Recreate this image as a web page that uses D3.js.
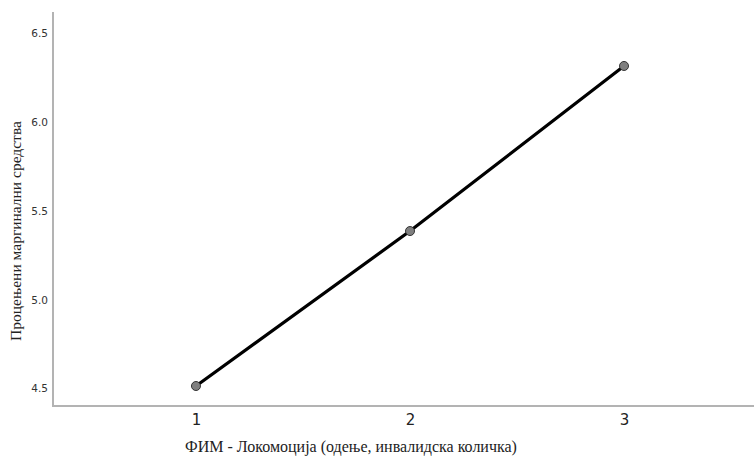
<!DOCTYPE html>
<html>
<head>
<meta charset="utf-8">
<script src="https://cdn.jsdelivr.net/npm/d3@7"></script>
<style>
  html, body { margin: 0; padding: 0; background: #fff; }
  svg { display: block; }
</style>
</head>
<body>
<svg id="chart" width="754" height="457"></svg>
<script>
// Estimated marginal means by FIM locomotion level
const levels = [1, 2, 3];
const means = [4.514, 5.387, 6.317];
const yTicks = [4.5, 5.0, 5.5, 6.0, 6.5];
const xTitle = "ФИМ - Локомоција (одење, инвалидска количка)";
const yTitle = "Процењени маргинални средства";

const svg = d3.select("#chart");
const plotLeft = 53, plotRight = 767, plotTop = 12, plotBottom = 406;

const x = d3.scalePoint().domain(levels).range([plotLeft, plotRight]).padding(0.668);
const y = d3.scaleLinear().domain([4.4014, 6.621]).range([plotBottom, plotTop]);

// axis lines
svg.append("line")
  .attr("x1", plotLeft).attr("x2", plotLeft).attr("y1", plotTop).attr("y2", plotBottom)
  .attr("stroke", "#b3b3b3").attr("stroke-width", 2);
svg.append("line")
  .attr("x1", plotLeft - 1).attr("x2", 754).attr("y1", plotBottom).attr("y2", plotBottom)
  .attr("stroke", "#b3b3b3").attr("stroke-width", 2);

// y tick labels
const yAxis = d3.axisLeft(y).tickValues(yTicks).tickFormat(d3.format(".1f")).tickSize(0).tickPadding(5);
const gy = svg.append("g").attr("transform", `translate(${plotLeft},0)`).call(yAxis);
gy.select(".domain").remove();
gy.selectAll("text")
  .attr("font-family", "'DejaVu Sans', Verdana, sans-serif")
  .attr("font-size", 10.5).attr("fill", "#333");

// x tick labels
const xAxis = d3.axisBottom(x).tickSize(0).tickPadding(8);
const gx = svg.append("g").attr("transform", `translate(0,${plotBottom})`).call(xAxis);
gx.select(".domain").remove();
gx.selectAll("text")
  .attr("font-family", "'DejaVu Sans', Verdana, sans-serif")
  .attr("font-size", 15).attr("fill", "#222");

// axis titles
svg.append("text")
  .attr("x", 351).attr("y", 452)
  .attr("text-anchor", "middle")
  .attr("font-family", "'Liberation Serif', 'Times New Roman', serif")
  .attr("font-size", 16).attr("fill", "#222")
  .text(xTitle);
svg.append("text")
  .attr("transform", "translate(21,231) rotate(-90)")
  .attr("text-anchor", "middle")
  .attr("font-family", "'Liberation Serif', 'Times New Roman', serif")
  .attr("font-size", 15.5).attr("fill", "#222")
  .text(yTitle);

// line and markers
const data = levels.map((l, i) => ({ l, v: means[i] }));
svg.append("path")
  .datum(data)
  .attr("fill", "none").attr("stroke", "#000").attr("stroke-width", 3.2)
  .attr("d", d3.line().x(d => x(d.l)).y(d => y(d.v)));
svg.selectAll("circle.pt").data(data).enter().append("circle")
  .attr("class", "pt")
  .attr("cx", d => x(d.l)).attr("cy", d => y(d.v)).attr("r", 4.5)
  .attr("fill", "#7f7f7f").attr("stroke", "#333").attr("stroke-width", 1);
</script>
</body>
</html>
